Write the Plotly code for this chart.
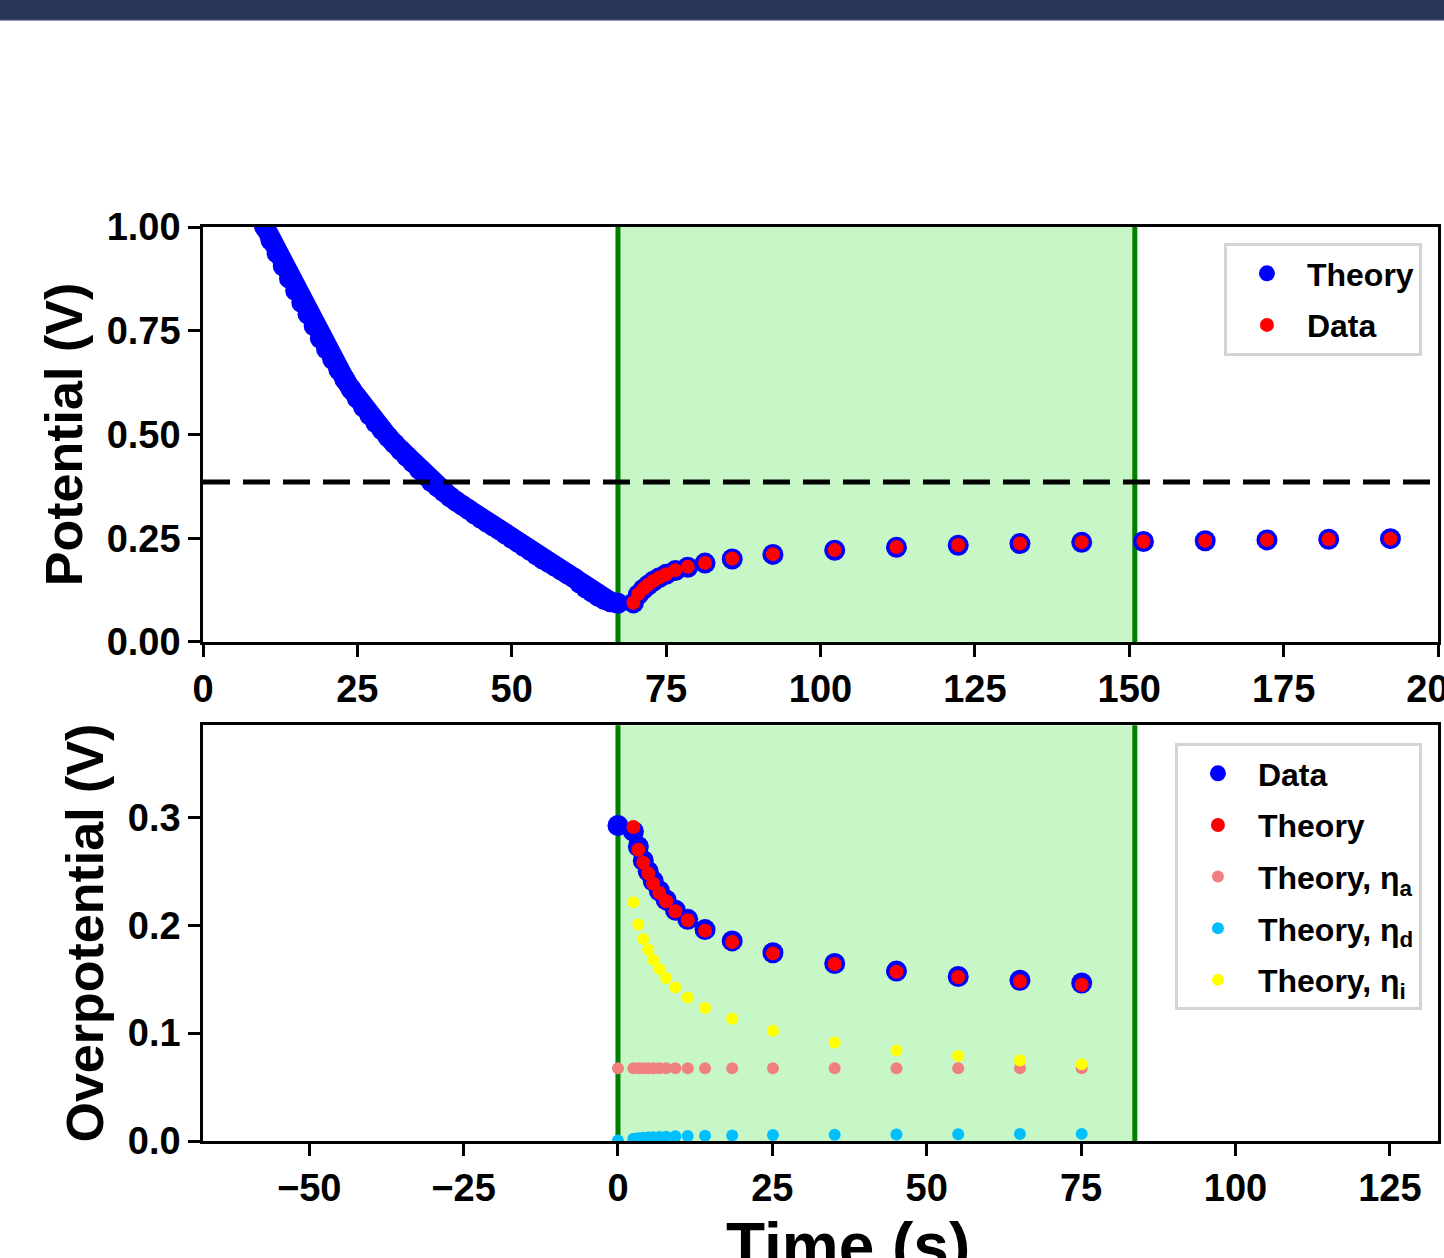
import plotly.graph_objects as go

# ---------------- data: top panel (Potential vs time) ----------------
t_pre = [9, 10, 11, 12, 13, 14, 15, 16, 17, 18, 19, 20, 21, 22, 23, 24, 25, 26, 27, 28,
         29, 30, 31, 32, 33, 34, 35, 36, 37, 38, 39, 40, 41, 42, 43, 44, 45, 46, 47, 48,
         49, 50, 51, 52, 53, 54, 55, 56, 57, 58, 59, 60, 61, 62, 63, 64, 65, 66, 67.2]
v_pre = [1.030, 1.000, 0.968, 0.937, 0.906, 0.876, 0.847, 0.818, 0.790, 0.762,
         0.732, 0.706, 0.681, 0.656, 0.632, 0.609, 0.587, 0.566, 0.547, 0.528,
         0.511, 0.494, 0.478, 0.462, 0.447, 0.432, 0.416, 0.401, 0.386, 0.374,
         0.362, 0.350, 0.339, 0.329, 0.319, 0.308, 0.298, 0.288, 0.279, 0.270,
         0.260, 0.250, 0.240, 0.230, 0.220, 0.210, 0.200, 0.191, 0.182, 0.173,
         0.164, 0.155, 0.142, 0.130, 0.120, 0.110, 0.102, 0.097, 0.093]

t_post = [69.7, 70.5, 71.3, 72.1, 72.9, 73.9, 75.0, 76.5, 78.5, 81.3, 85.7, 92.3,
          102.3, 112.3, 122.3, 132.3, 142.3, 152.3, 162.3, 172.3, 182.3, 192.3]
v_post_theory = [0.094, 0.114, 0.127, 0.137, 0.146, 0.155, 0.163, 0.172, 0.180, 0.190,
                 0.200, 0.211, 0.221, 0.228, 0.233, 0.237, 0.240, 0.242, 0.244, 0.246,
                 0.2475, 0.249]
v_post_data = [0.0945, 0.1155, 0.128, 0.138, 0.147, 0.1555, 0.163, 0.173, 0.181, 0.1905,
               0.201, 0.2116, 0.2214, 0.2286, 0.2335, 0.2375, 0.2405, 0.242, 0.244, 0.246,
               0.2475, 0.249]

v_equilibrium = 0.3855
t_start = 67.2
t_end = 150.9

# ---------------- data: bottom panel (Overpotential vs relative time) ----------------
t_rel = [0, 2.5, 3.3, 4.1, 4.9, 5.7, 6.7, 7.8, 9.3, 11.3, 14.1, 18.5, 25.1, 35.1,
         45.1, 55.1, 65.1, 75.1]
eta_data = [0.2925, 0.287, 0.273, 0.260, 0.250, 0.241, 0.232, 0.2235, 0.214, 0.2055,
            0.196, 0.1855, 0.1745, 0.1645, 0.1575, 0.1525, 0.149, 0.1465]
t_rel_theory = [2.5, 3.3, 4.1, 4.9, 5.7, 6.7, 7.8, 9.3, 11.3, 14.1, 18.5, 25.1, 35.1,
                45.1, 55.1, 65.1, 75.1]
eta_theory = [0.291, 0.270, 0.258, 0.248, 0.2386, 0.230, 0.2222, 0.2129, 0.2046, 0.195,
              0.1845, 0.1739, 0.1641, 0.1569, 0.152, 0.148, 0.1448]
eta_a = [0.0675] * 18
eta_d = [0.0005, 0.0020, 0.0025, 0.0029, 0.0032, 0.0035, 0.0038, 0.0040, 0.0043, 0.0046,
         0.0049, 0.0052, 0.0055, 0.0058, 0.0060, 0.0062, 0.0064, 0.0066]
eta_i = [0.2213, 0.2006, 0.1873, 0.1773, 0.1681, 0.1594, 0.1511, 0.1424, 0.1331, 0.1232,
         0.1133, 0.1021, 0.0913, 0.0839, 0.0789, 0.0746, 0.0712]

top_xticks = [0, 25, 50, 75, 100, 125, 150, 175, 200]
top_yticks = [0.0, 0.25, 0.5, 0.75, 1.0]
bot_xticks = [-50, -25, 0, 25, 50, 75, 100, 125]
bot_yticks = [0.0, 0.1, 0.2, 0.3]

# ---------------- styles ----------------
BLUE = "#0000ff"
RED = "#ff0000"
PINK = "#f08080"
CYAN = "#00bfff"
YELLOW = "#ffff00"
GREEN = "#008000"
SHADE = "#c7f6c7"
FONT = "Liberation Sans, Arial, sans-serif"

fig = go.Figure()

# top panel traces
fig.add_trace(go.Scatter(x=t_pre, y=v_pre, mode="lines+markers", showlegend=False,
                         line=dict(color=BLUE, width=20),
                         marker=dict(color=BLUE, size=21, line=dict(width=0)),
                         xaxis="x", yaxis="y"))
fig.add_trace(go.Scatter(x=t_post, y=v_post_theory, mode="markers",
                         name="Theory", legend="legend", legendgroup="a",
                         marker=dict(color=BLUE, size=21, line=dict(width=0)),
                         xaxis="x", yaxis="y"))
fig.add_trace(go.Scatter(x=t_post, y=v_post_data, mode="markers", name="Data",
                         legend="legend", legendgroup="b",
                         marker=dict(color=RED, size=14, line=dict(width=0)),
                         xaxis="x", yaxis="y"))

# bottom panel traces
fig.add_trace(go.Scatter(x=t_rel, y=eta_data, mode="markers", name="Data", legend="legend2",
                         legendgroup="c",
                         marker=dict(color=BLUE, size=21, line=dict(width=0)),
                         xaxis="x2", yaxis="y2"))
fig.add_trace(go.Scatter(x=t_rel_theory, y=eta_theory, mode="markers", name="Theory",
                         legend="legend2", legendgroup="d",
                         marker=dict(color=RED, size=14, line=dict(width=0)),
                         xaxis="x2", yaxis="y2"))
fig.add_trace(go.Scatter(x=t_rel, y=eta_a, mode="markers", name="Theory, η<sub>a</sub>",
                         legend="legend2", legendgroup="e",
                         marker=dict(color=PINK, size=12, line=dict(width=0)),
                         xaxis="x2", yaxis="y2"))
fig.add_trace(go.Scatter(x=t_rel, y=eta_d, mode="markers", name="Theory, η<sub>d</sub>",
                         legend="legend2", legendgroup="f",
                         marker=dict(color=CYAN, size=12, line=dict(width=0)),
                         xaxis="x2", yaxis="y2"))
fig.add_trace(go.Scatter(x=t_rel_theory, y=eta_i, mode="markers", name="Theory, η<sub>i</sub>",
                         legend="legend2", legendgroup="g",
                         marker=dict(color=YELLOW, size=12, line=dict(width=0)),
                         xaxis="x2", yaxis="y2"))

shapes = []
# shaded window + boundary lines, top
shapes.append(dict(type="rect", xref="x", yref="y domain", x0=t_start, x1=t_end, y0=0, y1=1,
                   fillcolor=SHADE, line=dict(width=0), layer="below"))
for xv in (t_start, t_end):
    shapes.append(dict(type="line", xref="x", yref="y domain", x0=xv, x1=xv, y0=0, y1=1,
                       line=dict(color=GREEN, width=5), layer="below"))
# shaded window, bottom
shapes.append(dict(type="rect", xref="x2", yref="y2 domain", x0=0, x1=t_end - t_start,
                   y0=0, y1=1, fillcolor=SHADE, line=dict(width=0), layer="below"))
for xv in (0, t_end - t_start):
    shapes.append(dict(type="line", xref="x2", yref="y2 domain", x0=xv, x1=xv, y0=0, y1=1,
                       line=dict(color=GREEN, width=5), layer="below"))
# equilibrium dashed line
shapes.append(dict(type="line", xref="x domain", yref="y", x0=0, x1=1,
                   y0=v_equilibrium, y1=v_equilibrium,
                   line=dict(color="black", width=5, dash="27px,13px"), layer="above"))
# dark banner at page top
shapes.append(dict(type="rect", xref="paper", yref="paper", x0=-0.2, x1=1.1,
                   y0=1.2265, y1=1.27, fillcolor="#2a3658", line=dict(width=0)))
shapes.append(dict(type="rect", xref="paper", yref="paper", x0=-0.2, x1=1.1,
                   y0=1.2255, y1=1.2268, fillcolor="#8c96ad", line=dict(width=0)))

axis_common = dict(showline=True, linecolor="black", linewidth=2.5, mirror=True,
                   ticks="outside", ticklen=12, tickwidth=2.5, tickcolor="black",
                   showgrid=False, zeroline=False, ticklabeloverflow="allow",
                   automargin=False,
                   tickfont=dict(family=FONT, size=38, color="black", weight="bold"))

legend_common = dict(xanchor="right", yanchor="top", bgcolor="white",
                     bordercolor="#d4d4d4", borderwidth=3,
                     font=dict(family=FONT, size=32, color="black", weight="bold"),
                     itemwidth=70, tracegroupgap=7)

fig.update_layout(
    width=1444, height=1258,
    margin=dict(l=203, r=6, t=227, b=117, autoexpand=False),
    paper_bgcolor="white", plot_bgcolor="white",
    shapes=shapes,
    xaxis=dict(domain=[0, 1], anchor="y", range=[0, 200], tickvals=top_xticks,
               **axis_common),
    yaxis=dict(domain=[0.546, 1], anchor="x", range=[0, 1], tickvals=top_yticks,
               tickformat=".2f",
               title=dict(text="Potential (V)", standoff=8,
                          font=dict(family=FONT, size=52, color="black", weight="bold")),
               **axis_common),
    xaxis2=dict(domain=[0, 1], anchor="y2", range=[-t_start, 200 - t_start],
                tickvals=bot_xticks, **axis_common),
    yaxis2=dict(domain=[0, 0.455], anchor="x2", range=[0, v_equilibrium],
                tickvals=bot_yticks, tickformat=".1f",
                title=dict(text="Overpotential (V)", standoff=8,
                           font=dict(family=FONT, size=52, color="black", weight="bold")),
                **axis_common),
    legend=dict(x=0.987, y=0.9825, **legend_common),
    legend2=dict(x=0.987, y=0.4354, **legend_common),
    annotations=[dict(text="Time (s)", xref="paper", yref="paper", x=0.522, y=-0.0733,
                      xanchor="center", yanchor="top", showarrow=False,
                      font=dict(family=FONT, size=64, color="black", weight="bold"))],
    showlegend=True,
)

fig.write_html("out.html", config={"displayModeBar": False},
               post_script="document.body.style.margin='0';")
